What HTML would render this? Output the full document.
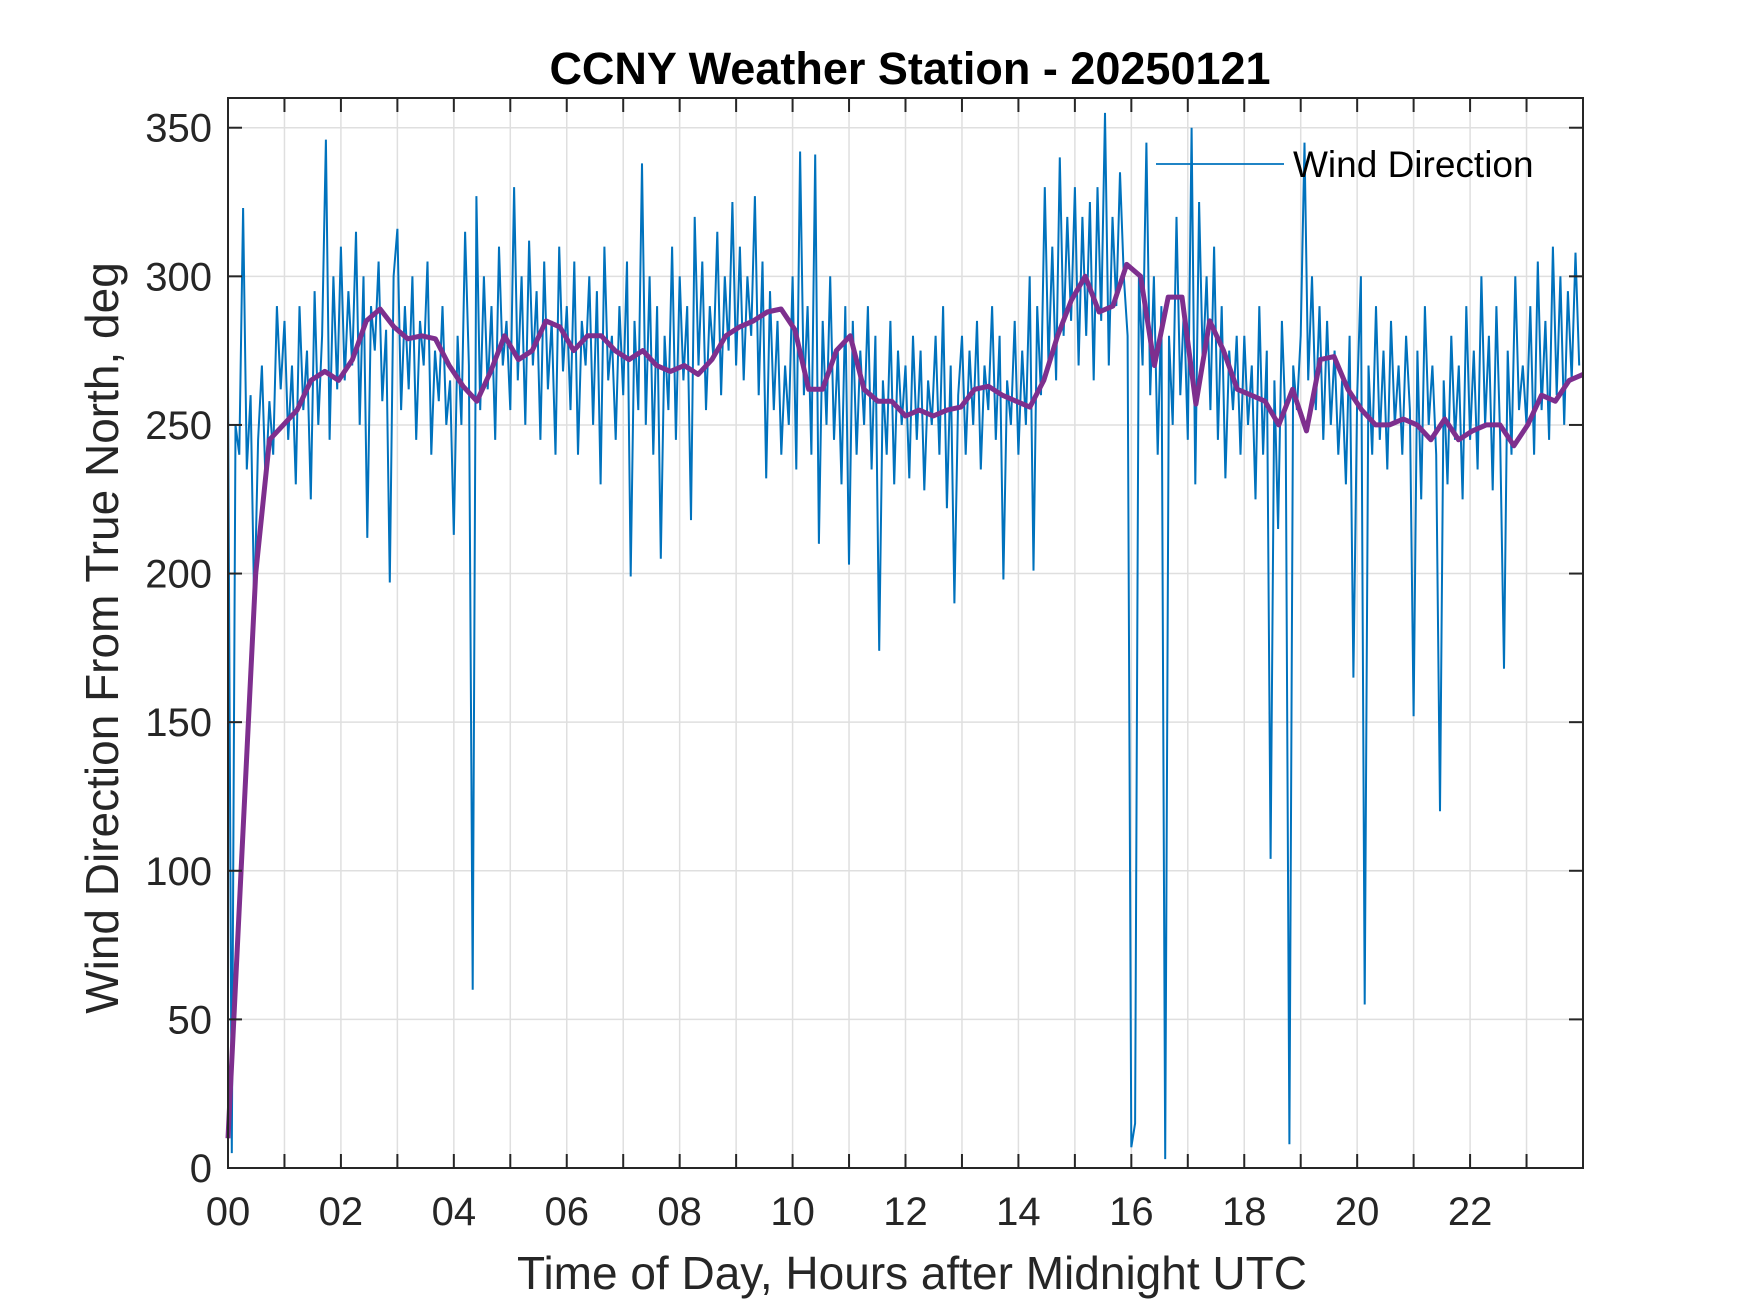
<!DOCTYPE html>
<html><head><meta charset="utf-8"><style>
html,body{margin:0;padding:0;background:#fff;}
svg{display:block;font-family:"Liberation Sans",Arial,sans-serif;}
</style></head><body>
<svg id="chart" width="1750" height="1313" viewBox="0 0 1750 1313">
<rect width="1750" height="1313" fill="#fff"/>
<g id="grid"></g>
<g id="series"></g>
<g id="axes"></g>
<text x="910" y="84" text-anchor="middle" font-size="45" font-weight="bold" fill="#000">CCNY Weather Station - 20250121</text>
<text x="912" y="1289" text-anchor="middle" font-size="46" fill="#262626">Time of Day, Hours after Midnight UTC</text>
<text transform="translate(118,638) rotate(-90)" text-anchor="middle" font-size="46" fill="#262626">Wind Direction From True North, deg</text>
<g>
<line x1="1156" y1="164" x2="1284" y2="164" stroke="#0072BD" stroke-width="1.8"/>
<text x="1293" y="177" font-size="37" fill="#000">Wind Direction</text>
</g>
</svg>
<script>
const xTicks=[0,2,4,6,8,10,12,14,16,18,20,22];
const xTickLabels=["00","02","04","06","08","10","12","14","16","18","20","22"];
const yTicks=[0,50,100,150,200,250,300,350];
const windDir=[
265,5,250,240,323,235,260,187,245,270,230,258,240,290,262,
285,245,270,230,290,255,275,225,295,250,280,346,245,300,262,
310,265,295,270,315,250,300,212,290,275,305,258,282,197,300,
316,255,290,262,300,245,285,270,305,240,275,258,290,250,265,
213,280,250,315,270,60,327,255,300,262,290,245,310,270,285,
255,330,265,300,250,312,270,295,245,305,262,285,240,310,268,
290,255,305,240,285,270,300,250,295,230,310,265,280,245,290,
260,305,199,285,255,338,250,300,240,290,205,280,255,310,245,
300,265,290,218,320,270,305,255,290,272,315,260,300,275,325,
270,310,265,300,280,327,260,305,232,295,255,285,240,270,250,
300,235,342,260,290,240,341,210,285,250,300,245,275,230,290,
203,285,240,275,250,290,235,280,174,265,240,285,230,275,250,
270,232,280,245,275,228,265,250,280,240,290,222,270,190,260,
280,240,275,250,285,235,270,255,290,245,280,198,265,250,285,
240,275,250,300,201,290,260,330,270,310,265,340,280,320,285,
330,270,320,280,325,265,330,285,355,270,320,290,335,300,280,
7,15,300,270,345,260,300,240,290,3,280,250,320,260,290,
245,350,230,325,270,300,255,310,245,290,232,275,255,280,240,
280,250,270,225,290,240,275,104,265,215,285,250,8,270,255,
280,345,265,300,255,290,245,285,250,275,240,265,230,280,165,
260,300,55,270,240,290,245,275,235,285,250,270,240,280,255,
152,275,225,290,250,270,240,120,265,230,280,245,270,225,290,
245,275,235,300,250,280,228,290,245,168,275,240,300,255,270,
250,290,240,305,255,285,245,310,260,300,250,295,265,308,270];
const smoothDir=[10,105,200,245,250,255,265,268,265,272,285,289,283,279,280,279,270,263,258,268,280,272,275,285,283,275,280,280,275,272,275,270,268,270,267,272,280,283,285,288,289,282,262,262,275,280,262,258,258,253,255,253,255,256,262,263,260,258,256,265,280,292,300,288,290,304,300,270,293,293,257,285,275,262,260,258,250,262,248,272,273,262,255,250,250,252,250,245,252,245,248,250,250,243,250,260,258,265,267];
const L=228,R=1583,T=98,B=1168,XMAX=24,YMAX=360;
const sx=h=>L+h/XMAX*(R-L), sy=v=>B-v/YMAX*(B-T);
const NS="http://www.w3.org/2000/svg";
function mk(tag,attrs,parent){const e=document.createElementNS(NS,tag);for(const k in attrs)e.setAttribute(k,attrs[k]);parent.appendChild(e);return e;}
const grid=document.getElementById('grid'),series=document.getElementById('series'),axes=document.getElementById('axes');
for(let h=1;h<XMAX;h++){
  const g=mk('line',{x1:sx(h),x2:sx(h),y1:T,y2:B,stroke:'#dfdfdf','stroke-width':1.5},grid);
  
  
}
yTicks.forEach(v=>{
  const g=mk('line',{x1:L,x2:R,y1:sy(v),y2:sy(v),stroke:'#dfdfdf','stroke-width':1.5},grid);
  
  
});
let d='';
windDir.forEach((v,i)=>{d+=(i?'L':'M')+sx(i/15).toFixed(1)+','+sy(v).toFixed(1);});
const p1=mk('path',{d:d,fill:'none',stroke:'#0072BD','stroke-width':2},series);


let d2='';
smoothDir.forEach((v,i)=>{d2+=(i?'L':'M')+sx(i*XMAX/(smoothDir.length-1)).toFixed(1)+','+sy(v).toFixed(1);});
const p2=mk('path',{d:d2,fill:'none',stroke:'#7E2F8E','stroke-width':5,'stroke-linejoin':'round'},series);


const box=mk('rect',{x:L,y:T,width:R-L,height:B-T,fill:'none',stroke:'#262626','stroke-width':2},axes);


for(let h=1;h<XMAX;h++){
  mk('line',{x1:sx(h),x2:sx(h),y1:B,y2:B-14,stroke:'#262626','stroke-width':2},axes);
  mk('line',{x1:sx(h),x2:sx(h),y1:T,y2:T+14,stroke:'#262626','stroke-width':2},axes);
}
xTicks.forEach((h,i)=>{
  const t=mk('text',{x:sx(h),y:B+57,'text-anchor':'middle','font-size':40,fill:'#262626'},axes);
  t.textContent=xTickLabels[i];
  
  
});
yTicks.forEach(v=>{
  mk('line',{x1:L,x2:L+14,y1:sy(v),y2:sy(v),stroke:'#262626','stroke-width':2},axes);
  mk('line',{x1:R,x2:R-14,y1:sy(v),y2:sy(v),stroke:'#262626','stroke-width':2},axes);
  const t=mk('text',{x:L-16,y:sy(v)+14,'text-anchor':'end','font-size':40,fill:'#262626'},axes);
  t.textContent=v;
  
  
});
</script>
</body></html>
